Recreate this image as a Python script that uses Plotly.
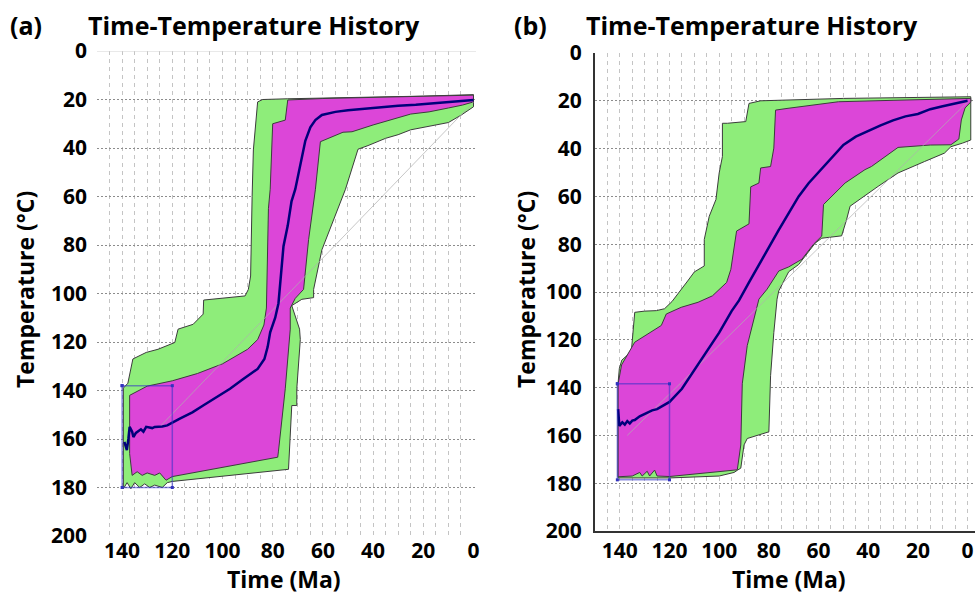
import plotly.graph_objects as go

# ---------------- Panel (a) data (Time in Ma, Temperature in °C) ----------------
a_green_upper_t = [139.5, 139.5, 137.7, 135.7, 130.4, 125.7, 119, 117.7, 111.7, 107.7, 107.5, 91, 89.7, 88.8, 88.2, 87.7, 86, 84, 74, 60, 40, 20, 0]
a_green_upper_T = [180, 139, 137, 127, 124.3, 123, 120.2, 114.7, 112.7, 108.5, 102.7, 101, 98.3, 92.8, 60, 40.8, 21, 20, 19.7, 19.3, 19, 18.6, 18]
a_green_lower_t = [139.5, 138, 136.5, 135, 133, 131, 129, 127, 124, 122, 120, 73.7, 72.4, 70.4, 70.4, 69, 69.3, 72.4, 68.4, 63.7, 63.7, 60.4, 56.4, 51, 46, 42, 35, 30, 25, 18, 10, 5, 2, 0]
a_green_lower_T = [180.5, 178, 180.5, 178, 180, 178.5, 180, 179, 180, 178, 177.5, 172.5, 146.2, 146.2, 139.3, 119, 114.7, 105, 102.4, 101.7, 98.3, 82, 71, 57, 40.5, 39, 36, 34.5, 32.5, 31, 29.5, 26.5, 24.5, 23]

a_mag_upper_t = [137, 130, 120, 110, 100, 90, 86, 83.5, 82.5, 81.7, 81, 80.5, 80, 75, 74, 60, 40, 20, 0]
a_mag_upper_T = [142, 138.2, 136, 133, 129, 123, 119, 113, 106, 65, 57, 40, 30, 28.5, 20.2, 19.6, 19.2, 18.7, 18.2]
a_mag_lower_t = [137, 136, 134, 132, 130, 127, 125, 122.5, 120, 78, 77.7, 75, 73, 73, 71, 67.7, 65.7, 63, 61, 52, 48.4, 40, 33.7, 25, 17.7, 10, 4.4, 0]
a_mag_lower_T = [166, 175, 173.5, 175, 174, 175, 174, 177, 175.5, 167.5, 165, 139.3, 114.7, 106, 102, 98.3, 77.8, 57.2, 37.4, 33.5, 33.3, 30.5, 28.5, 26, 25.1, 23.5, 22.3, 21]

a_mean_t = [139.1, 138.1, 137.5, 137, 136, 135.5, 134.5, 133.7, 132.5, 131.5, 130.4, 128, 127, 124, 122, 117, 112, 107.7, 102, 97, 92, 86, 83.3, 82, 81, 79, 77.7, 76.4, 75.7, 74, 72.5, 71, 69, 67, 65, 63, 60.4, 55, 50, 43, 36.4, 30, 23, 16.4, 10, 3, 0]
a_mean_T = [161.2, 164.6, 160, 155, 157, 159.2, 157.5, 157, 156, 157, 155, 155.5, 155, 154.8, 154.4, 151.6, 149, 146.2, 142.5, 139.3, 135.5, 131.1, 127, 122, 116, 110, 104, 90, 80.5, 72, 62, 57, 47, 37, 31.5, 28.5, 26.4, 25.1, 24.4, 23.7, 23, 22.6, 22.2, 21.6, 21.2, 20.6, 20.2]

a_box_t = [140, 140, 120, 120, 140]
a_box_T = [138, 180, 180, 138, 138]
a_diag_t = [125, 0]
a_diag_T = [155, 21]

# ---------------- Panel (b) data ----------------
b_green_upper_t = [140.7, 140.2, 139.2, 136.5, 135.3, 134.5, 134, 130, 125.3, 122, 119, 112.7, 110, 106, 106, 104, 101.3, 100, 98.7, 98.7, 96.7, 89.3, 88, 83.3, 70, 50, 20, -1.3]
b_green_upper_T = [138, 132, 128.5, 126, 124, 115, 108.5, 108, 107.8, 107, 104, 95.4, 91.6, 89.1, 78, 68.3, 61.3, 50.2, 43.3, 29.4, 29.4, 28.7, 21.1, 20, 19.5, 19, 18.6, 18.3]
b_green_lower_t = [140.7, 120, 100, 94, 92.7, 91.3, 90, 88.7, 80, 79.3, 78, 76.7, 76, 72, 68, 61.3, 58.7, 50.7, 48.7, 47.3, 36, 28, 17.3, 9.3, 6.7, 2, -1.3]
b_green_lower_T = [177.8, 177.8, 177, 175.5, 174.6, 173.7, 164, 161.3, 158.5, 135, 117, 103, 99.5, 91.5, 88.5, 79.5, 77.5, 76.5, 69.7, 64.1, 55.8, 50.2, 45.4, 41.9, 39.2, 37.7, 36.4]

b_mag_upper_t = [140.7, 139.3, 134, 127.3, 123.3, 121.3, 115.3, 108.5, 102.7, 97, 95.3, 93, 88, 87.3, 84, 83.3, 79.3, 78, 77.3, 72.7, 60, 52, 30, -1.3]
b_mag_upper_T = [138.5, 130.5, 121, 116.8, 114, 109.2, 106.4, 104.3, 101.6, 96, 90.5, 74.5, 71.5, 56, 54.4, 48.1, 47.5, 39.8, 23.9, 23.2, 21.5, 20.4, 19.8, 19]
b_mag_lower_t = [140.7, 135, 132, 131, 129, 128, 126, 125, 120, 92.7, 91.3, 90.7, 88.7, 86, 84, 80.7, 76, 72, 66.7, 62, 58.7, 58, 49.3, 41.3, 38.7, 28, 15, 6.7, 3.5, 2.5, 1, -1.3]
b_mag_lower_T = [177.3, 177, 175.5, 177, 175, 177, 174.5, 177, 177.2, 174.4, 164, 138.4, 122.4, 111.3, 103, 98.8, 91.2, 89.5, 86.3, 80, 76.6, 63.4, 54.4, 48.8, 47.5, 39.5, 38.5, 38.4, 36, 28, 23, 20.5]

b_mean_t = [140.7, 140.2, 139, 138, 137, 136, 135, 134, 132, 130, 127, 125, 122, 120, 115, 110, 105, 100, 95, 92, 88, 84, 80, 76, 72, 68, 64, 60, 55, 50, 45, 40, 35, 30, 25, 20, 15, 10, 5, 0]
b_mean_T = [149, 156, 154.5, 155.5, 154, 155, 153.8, 153.6, 152, 151, 149.5, 149, 147.3, 146, 140.5, 132.5, 125, 117, 108, 103.5, 96, 88.5, 81, 74, 67, 60, 54.5, 50, 44, 38.5, 35, 32.5, 30.3, 28.2, 26.5, 25.5, 23.5, 22.3, 21, 20]

b_box_t = [141, 141, 120, 120, 141]
b_box_T = [138.4, 178.6, 178.6, 138.4, 138.4]
b_diag_t = [137, 0]
b_diag_T = [160, 20.5]

time_ticks = [140, 120, 100, 80, 60, 40, 20, 0]
temp_ticks = [0, 20, 40, 60, 80, 100, 120, 140, 160, 180, 200]

GREEN = "rgb(142,237,122)"
MAGENTA = "rgb(220,70,216)"
OUTLINE = "#3c3c3c"
NAVY = "#00007a"
FONT = "Open Sans"

# Page margin is removed by a small post script, so the figure fills the window.
W, H = 975, 599


def PX(x):
    return x / W


def PY(y):
    return 1 - y / H


def poly(up_t, up_T, lo_t, lo_T):
    return list(up_t) + list(reversed(lo_t)) + [up_t[0]], list(up_T) + list(reversed(lo_T)) + [up_T[0]]


fig = go.Figure()


def add_panel(xa, ya, gu_t, gu_T, gl_t, gl_T, mu_t, mu_T, ml_t, ml_T, mean_t, mean_T, box_t, box_T, dg_t, dg_T):
    gx, gy = poly(gu_t, gu_T, gl_t, gl_T)
    fig.add_trace(go.Scatter(x=gx, y=gy, xaxis=xa, yaxis=ya, mode="lines", fill="toself",
                             fillcolor=GREEN, line=dict(color=OUTLINE, width=1), hoverinfo="skip", showlegend=False))
    mx, my = poly(mu_t, mu_T, ml_t, ml_T)
    fig.add_trace(go.Scatter(x=mx, y=my, xaxis=xa, yaxis=ya, mode="lines", fill="toself",
                             fillcolor=MAGENTA, line=dict(color=OUTLINE, width=1), hoverinfo="skip", showlegend=False))
    fig.add_trace(go.Scatter(x=dg_t, y=dg_T, xaxis=xa, yaxis=ya, mode="lines",
                             line=dict(color="rgba(175,175,175,0.7)", width=1), hoverinfo="skip", showlegend=False))
    fig.add_trace(go.Scatter(x=mean_t, y=mean_T, xaxis=xa, yaxis=ya, mode="lines",
                             line=dict(color=NAVY, width=2.5), hoverinfo="skip", showlegend=False))
    fig.add_trace(go.Scatter(x=box_t, y=box_T, xaxis=xa, yaxis=ya, mode="lines+markers",
                             line=dict(color="rgba(50,50,200,0.55)", width=1.5),
                             marker=dict(symbol="square", size=3, color="rgb(50,50,190)"),
                             hoverinfo="skip", showlegend=False))


add_panel("x", "y", a_green_upper_t, a_green_upper_T, a_green_lower_t, a_green_lower_T,
          a_mag_upper_t, a_mag_upper_T, a_mag_lower_t, a_mag_lower_T, a_mean_t, a_mean_T,
          a_box_t, a_box_T, a_diag_t, a_diag_T)
add_panel("x2", "y2", b_green_upper_t, b_green_upper_T, b_green_lower_t, b_green_lower_T,
          b_mag_upper_t, b_mag_upper_T, b_mag_lower_t, b_mag_lower_T, b_mean_t, b_mean_T,
          b_box_t, b_box_T, b_diag_t, b_diag_T)

tickfont = dict(family=FONT, size=21, color="black", weight="bold")


def xaxis_cfg(dom, rng, minor_vals, showline, standoff):
    return dict(domain=dom, range=rng, tickmode="array", tickvals=time_ticks,
                ticktext=[str(v) for v in time_ticks], tickfont=tickfont, ticks="",
                showgrid=False, zeroline=False, showline=showline, linecolor="#333", linewidth=2,
                ticklabelstandoff=standoff, automargin=False,
                minor=dict(tickvals=minor_vals, showgrid=True, gridcolor="#c4c4c4",
                           griddash="4px,4px", gridwidth=1, ticks=""))


def yaxis_cfg(dom, anchor, showline, standoff):
    return dict(domain=dom, range=[200, 0], anchor=anchor, tickmode="array", tickvals=temp_ticks,
                ticktext=[str(v) for v in temp_ticks], tickfont=tickfont, ticks="",
                showgrid=False, zeroline=False, showline=showline, linecolor="#333", linewidth=2,
                ticklabelstandoff=standoff, automargin=False,
                minor=dict(tickvals=list(range(20, 181, 20)), showgrid=True, gridcolor="#8c8c8c",
                           griddash="2px,2px", gridwidth=1, ticks=""))


fig.update_layout(
    width=W, height=H,
    margin=dict(l=0, r=0, t=0, b=0, pad=0, autoexpand=False),
    paper_bgcolor="white", plot_bgcolor="white",
    xaxis=xaxis_cfg([PX(97), PX(476)], [150, -1], list(range(5, 150, 5)), False, 0),
    yaxis=yaxis_cfg([PY(536), PY(51)], "x", False, 9),
    xaxis2=dict(xaxis_cfg([PX(595), 1.0], [150, -3], list(range(0, 150, 5)), True, 0), anchor="y2"),
    yaxis2=yaxis_cfg([PY(531), PY(53)], "x2", True, 7),
)

# light top border of panel (a)
fig.add_shape(type="line", xref="x domain", yref="y", x0=0, x1=1, y0=0, y1=0,
              line=dict(color="#d4d4d4", width=1))


def ann(text, px, py, size, xanchor="center", angle=0):
    fig.add_annotation(text=text, x=PX(px), y=PY(py), xref="paper", yref="paper",
                       xanchor=xanchor, yanchor="middle", showarrow=False, textangle=angle,
                       font=dict(family=FONT, size=size, color="black", weight="bold"))


ann("(a)", 8, 25, 25, "left")
ann("Time-Temperature History", 86, 25, 25, "left")
ann("(b)", 512, 25, 25, "left")
ann("Time-Temperature History", 584, 25, 25, "left")
ann("Temperature (°C)", 25, 290, 23, "center", -90)
ann("Temperature (°C)", 526, 290, 23, "center", -90)
ann("Time (Ma)", 284, 579, 23)
ann("Time (Ma)", 789, 579, 23)

fig.write_html("out.html", config={"displayModeBar": False},
               post_script="document.body.style.margin='0';document.body.style.overflow='hidden';")
